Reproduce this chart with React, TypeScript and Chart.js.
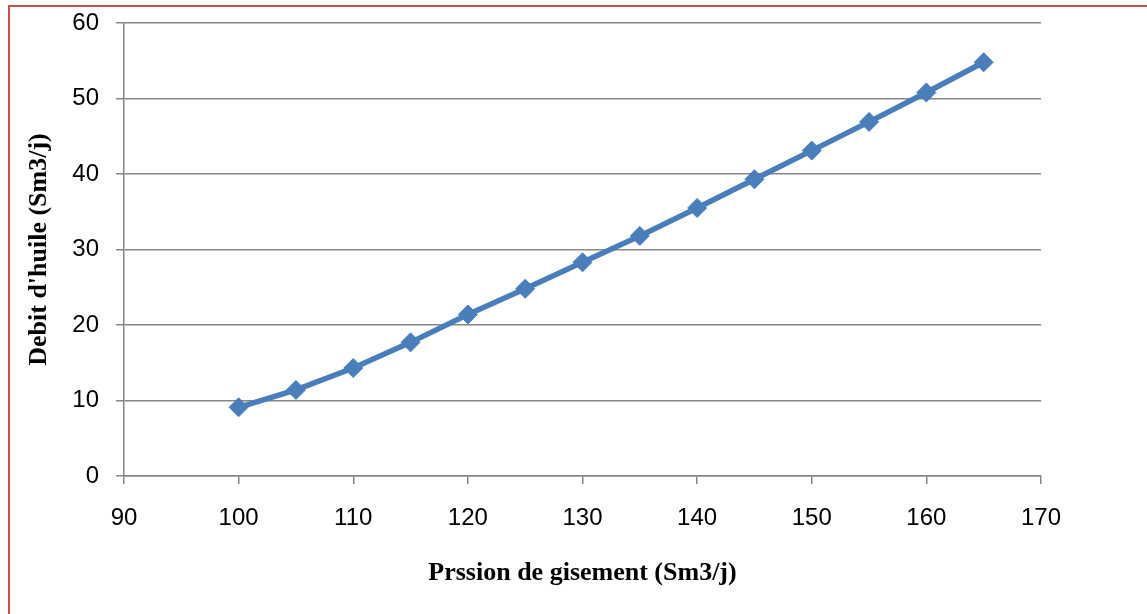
import React, { useEffect, useRef } from "react";
import { Chart, registerables } from "chart.js";

Chart.register(...registerables);

const pressures = [100, 105, 110, 115, 120, 125, 130, 135, 140, 145, 150, 155, 160, 165];
const oilRates = [9.1, 11.4, 14.3, 17.7, 21.4, 24.8, 28.3, 31.8, 35.5, 39.3, 43.1, 46.9, 50.8, 54.8];
const xTitle = "Prssion de gisement (Sm3/j)";
const yTitle = "Debit d'huile (Sm3/j)";

export default function App() {
  const ref = useRef<HTMLCanvasElement | null>(null);

  useEffect(() => {
    document.body.style.margin = "0";
    document.body.style.overflow = "hidden";
    const canvas = ref.current;
    if (!canvas) return;
    const grey = "#868686";
    const tickFont = { family: "'Liberation Sans', Arial, sans-serif", size: 24 };
    const titleFont = { family: "'Liberation Serif', 'Times New Roman', serif", size: 26, weight: "bold" as const };
    const chart = new Chart(canvas, {
      type: "line",
      data: {
        datasets: [
          {
            data: pressures.map((p, i) => ({ x: p, y: oilRates[i] })),
            borderColor: "#4A7EBB",
            backgroundColor: "#4A7EBB",
            borderWidth: 5.5,
            pointStyle: "rectRot",
            pointRadius: 9.5,
            pointBorderWidth: 1,
            pointBorderColor: "#4A7EBB",
            pointBackgroundColor: "#4A7EBB",
            tension: 0,
          },
        ],
      },
      options: {
        responsive: false,
        animation: false,
        devicePixelRatio: 1,
        layout: { padding: { left: 0, right: 106, top: 23, bottom: 0 } },
        plugins: { legend: { display: false }, tooltip: { enabled: false } },
        scales: {
          x: {
            type: "linear",
            min: 90,
            max: 170,
            ticks: { stepSize: 10, color: "#000", font: tickFont, padding: 20, maxRotation: 0 },
            grid: { drawOnChartArea: false, drawTicks: true, tickLength: 8, color: grey, lineWidth: 1.5 },
            border: { display: true, color: grey, width: 1.5 },
            title: { display: true, text: xTitle, color: "#000", font: titleFont, padding: { top: 0, bottom: 25 } },
            afterFit: (s: any) => {
              s.height = 138;
              s.paddingLeft = 0;
              s.paddingRight = 0;
            },
          },
          y: {
            min: 0,
            max: 60,
            ticks: { stepSize: 10, color: "#000", font: tickFont, padding: 17 },
            grid: { drawOnChartArea: true, drawTicks: true, tickLength: 8, color: grey, lineWidth: 1.5 },
            border: { display: true, color: grey, width: 1.5 },
            title: { display: true, text: yTitle, color: "#000", font: titleFont, padding: { top: 24, bottom: 0 } },
            afterFit: (s: any) => {
              s.width = 124;
              s.paddingTop = 0;
              s.paddingBottom = 0;
            },
          },
        },
      },
    });
    return () => chart.destroy();
  }, []);

  return (
    <div style={{ position: "fixed", left: 0, top: 0, width: 1147, height: 614, background: "#fff" }}>
      <canvas ref={ref} width={1147} height={614} style={{ position: "absolute", left: 0, top: 0 }} />
      <div
        style={{
          position: "absolute",
          left: 8,
          top: 5,
          width: 1400,
          height: 900,
          borderTop: "2px solid #C9504F",
          borderLeft: "2px solid #C9504F",
          pointerEvents: "none",
        }}
      />
    </div>
  );
}
